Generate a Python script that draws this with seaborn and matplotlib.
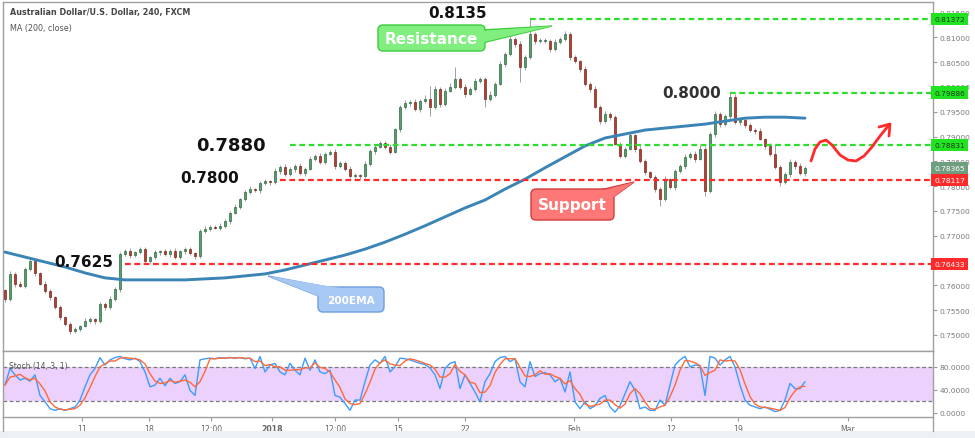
import numpy as np
import pandas as pd
import matplotlib
matplotlib.use("Agg")
import matplotlib.pyplot as plt
import seaborn as sns
from matplotlib import transforms
from matplotlib.patches import FancyBboxPatch, Polygon, Rectangle
from matplotlib.lines import Line2D

# ---------------- data ----------------
first_open = 0.7590
closes = [
    0.7572, 0.7623, 0.7603, 0.7599, 0.7633, 0.7649, 0.7624, 0.7603, 0.7589, 0.7576,
    0.7556, 0.7536, 0.7522, 0.7508, 0.7512, 0.7518, 0.7528, 0.7532, 0.7528, 0.7562,
    0.7556, 0.7572, 0.7593, 0.7663, 0.7669, 0.7661, 0.7667, 0.7673, 0.7649, 0.7657,
    0.7667, 0.7669, 0.7663, 0.7669, 0.7657, 0.7669, 0.7673, 0.7665, 0.7659, 0.7710,
    0.7714, 0.7718, 0.7716, 0.7720, 0.7730, 0.7746, 0.7758, 0.7774, 0.7788, 0.7794,
    0.7792, 0.7806, 0.7810, 0.7808, 0.7830, 0.7839, 0.7824, 0.7835, 0.7841, 0.7826,
    0.7835, 0.7855, 0.7861, 0.7849, 0.7865, 0.7869, 0.7841, 0.7847, 0.7835, 0.7820,
    0.7822, 0.7820, 0.7845, 0.7871, 0.7879, 0.7887, 0.7879, 0.7869, 0.7915, 0.7960,
    0.7968, 0.7970, 0.7955, 0.7972, 0.7976, 0.7960, 0.7996, 0.7966, 0.7992, 0.8000,
    0.8016, 0.8000, 0.7986, 0.7996, 0.8012, 0.8016, 0.7976, 0.7984, 0.8006, 0.8046,
    0.8066, 0.8097, 0.8087, 0.8040, 0.8060, 0.8107, 0.8093, 0.8093, 0.8093, 0.8076,
    0.8091, 0.8097, 0.8107, 0.8060, 0.8052, 0.8036, 0.8006, 0.7996, 0.7960, 0.7931,
    0.7945, 0.7939, 0.7885, 0.7861, 0.7875, 0.7903, 0.7875, 0.7851, 0.7828, 0.7818,
    0.7794, 0.7774, 0.7814, 0.7798, 0.7830, 0.7840, 0.7859, 0.7865, 0.7855, 0.7875,
    0.7790, 0.7905, 0.7945, 0.7925, 0.7941, 0.7980, 0.7929, 0.7933, 0.7923, 0.7913,
    0.7911, 0.7895, 0.7881, 0.7865, 0.7839, 0.7808, 0.7824, 0.7849, 0.7841, 0.7826,
    0.7837,
]
wick_up_pips = [
    3, 5, 4, 6, 3, 5, 4, 3, 5, 4,
    3, 4, 3, 5, 4, 3, 6, 4, 3, 5,
    4, 6, 3, 5, 4, 7, 3, 4, 5, 3,
    4, 3, 5, 4, 6, 3, 4, 5, 3, 4,
    5, 3, 4, 6, 3, 4, 5, 3, 4, 6,
    3, 5, 4, 3, 6, 4, 5, 3, 4, 5,
    4, 6, 3, 5, 4, 3, 6, 4, 3, 5,
    4, 3, 5, 4, 6, 3, 4, 5, 3, 4,
    6, 4, 5, 3, 8, 26, 6, 4, 5, 8,
    24, 4, 5, 3, 6, 4, 5, 8, 4, 6,
    5, 14, 4, 6, 5, 30, 4, 6, 5, 4,
    5, 4, 6, 4, 5, 3, 6, 4, 5, 3,
    6, 4, 5, 3, 4, 6, 3, 5, 4, 3,
    5, 4, 6, 3, 5, 4, 6, 3, 5, 8,
    5, 4, 6, 5, 4, 9, 5, 4, 6, 5,
    4, 6, 3, 5, 20, 4, 5, 6, 4, 5,
    4,
]
wick_dn_pips = [
    5, 4, 6, 3, 5, 4, 6, 3, 4, 5,
    4, 5, 3, 6, 4, 5, 3, 4, 5, 4,
    5, 3, 4, 6, 3, 5, 4, 3, 6, 4,
    3, 5, 4, 6, 3, 4, 5, 3, 6, 4,
    5, 4, 3, 5, 4, 6, 3, 4, 5, 4,
    3, 5, 4, 6, 3, 5, 4, 3, 6, 4,
    5, 3, 4, 5, 4, 3, 6, 4, 5, 3,
    4, 5, 3, 4, 6, 3, 5, 4, 3, 5,
    4, 6, 3, 5, 4, 19, 4, 6, 5, 3,
    4, 5, 6, 3, 5, 4, 16, 5, 4, 3,
    5, 4, 6, 30, 5, 4, 6, 5, 4, 5,
    3, 5, 4, 6, 3, 5, 4, 6, 3, 5,
    4, 6, 3, 5, 4, 3, 6, 4, 5, 3,
    6, 14, 5, 4, 6, 3, 5, 4, 6, 3,
    10, 4, 5, 6, 3, 5, 4, 6, 5, 4,
    5, 3, 6, 4, 5, 8, 4, 5, 6, 4,
    5,
]
# 200 MA, sampled every 4th bar
ma200 = [
    0.7667, 0.7657, 0.7647, 0.7637, 0.7625, 0.7615, 0.7611, 0.7611, 0.7611, 0.7611,
    0.7613, 0.7615, 0.7619, 0.7623, 0.7631, 0.7641, 0.7651, 0.7661, 0.7673, 0.7687,
    0.7703, 0.7720, 0.7738, 0.7756, 0.7772, 0.7794, 0.7814, 0.7837, 0.7859, 0.7881,
    0.7897, 0.7905, 0.7913, 0.7917, 0.7921, 0.7925, 0.7931, 0.7937, 0.7939, 0.7939,
    0.7937,
]
stoch_k = [
    48, 77, 66, 57, 60, 55, 66, 30, 19, 7,
    4, 7, 4, 7, 10, 22, 45, 66, 77, 96,
    83, 92, 96, 98, 94, 92, 95, 89, 71, 45,
    48, 60, 47, 60, 51, 54, 66, 39, 30, 92,
    94, 95, 94, 96, 95, 96, 95, 96, 94, 95,
    77, 98, 71, 83, 86, 71, 66, 86, 74, 66,
    95, 74, 92, 71, 68, 74, 30, 27, 16, 4,
    22, 22, 54, 83, 92, 86, 98, 71, 80, 95,
    94, 92, 89, 86, 84, 78, 66, 42, 77, 86,
    89, 42, 66, 51, 36, 19, 54, 68, 89, 96,
    98, 89, 94, 54, 45, 89, 63, 68, 70, 66,
    54, 60, 36, 71, 19, 7, 19, 7, 12, 25,
    30, 10, 1, 12, 33, 54, 39, 7, 10, 4,
    4, 22, 13, 48, 83, 92, 98, 80, 83, 82,
    30, 98, 95, 83, 92, 98, 80, 48, 22, 13,
    10, 7, 10, 6, 2, 4, 22, 51, 42, 42,
    54,
]
stoch_d = [
    48, 62, 64, 67, 61, 57, 60, 50, 38, 19,
    10, 6, 5, 6, 7, 13, 26, 44, 63, 80,
    85, 90, 90, 95, 96, 95, 94, 92, 85, 68,
    55, 51, 52, 56, 53, 55, 57, 53, 45, 54,
    72, 94, 94, 95, 95, 96, 95, 96, 95, 95,
    89, 90, 82, 84, 80, 80, 74, 74, 75, 75,
    78, 78, 87, 79, 77, 71, 57, 44, 24, 16,
    14, 16, 33, 53, 76, 87, 92, 85, 83, 82,
    90, 94, 92, 89, 86, 83, 76, 62, 62, 68,
    84, 72, 66, 53, 51, 35, 36, 47, 70, 84,
    94, 94, 94, 79, 64, 63, 66, 73, 67, 68,
    63, 60, 50, 56, 42, 32, 15, 11, 13, 15,
    22, 22, 14, 8, 15, 33, 42, 33, 19, 7,
    6, 10, 13, 28, 48, 74, 91, 90, 87, 82,
    65, 70, 74, 92, 90, 91, 90, 75, 50, 28,
    15, 10, 9, 8, 6, 4, 9, 26, 38, 45,
    46,
]
level_values = [0.81372, 0.79886, 0.78831, 0.78117, 0.76433]
level_is_resistance = [True, True, True, False, False]
level_start_bar = [105, 145, 57, 55, 24]
last_price = 0.78365
price_ticks = [0.750, 0.755, 0.760, 0.765, 0.770, 0.775, 0.780, 0.785,
               0.790, 0.795, 0.800, 0.805, 0.810, 0.815]
price_ticks_hidden = [0.765]   # fully covered by the 0.76433 tag in the reference
stoch_ticks = [0, 40, 80]
xtick_bars = [15.4, 28.8, 41.2, 53.4, 66.0, 78.6, 92.0, 113.8, 133.2, 146.6, 168.6]
xtick_labels = ["11", "18", "12:00", "2018", "12:00", "15", "22", "Feb", "12", "19", "Mar"]
annot_labels = ["0.8135", "0.7880", "0.7800", "0.7625", "0.8000"]

# ---------------- figure ----------------
sns.set_theme(style="white")
plt.rcParams["font.family"] = ["DejaVu Sans"]

W, H = 975, 439
fig = plt.figure(figsize=(W / 100, H / 100), dpi=100)
fig.patch.set_facecolor("white")
px = transforms.Affine2D().scale(1 / W, -1 / H).translate(0, 1) + fig.transFigure

ax = fig.add_axes([3 / W, 1 - 352 / H, 930 / W, 349 / H])
ax2 = fig.add_axes([3 / W, 1 - 418 / H, 930 / W, 66 / H])

o = np.array([first_open] + closes[:-1])
c = np.array(closes)
hi = np.maximum(o, c) + np.array(wick_up_pips) * 0.0001
lo = np.minimum(o, c) - np.array(wick_dn_pips) * 0.0001
xb = np.arange(len(c))
up = c >= o

ax.vlines(xb, lo, hi, color="#a0a0a0", lw=0.7, zorder=2)
bb = np.minimum(o, c)
bh = np.maximum(np.abs(c - o), 0.00007)
ax.bar(xb[up], bh[up], bottom=bb[up], width=0.5, color="#5c9f6f",
       edgecolor="#2e6a43", linewidth=0.5, zorder=3)
ax.bar(xb[~up], bh[~up], bottom=bb[~up], width=0.5, color="#b5402f",
       edgecolor="#7a261b", linewidth=0.5, zorder=3)

ma_df = pd.DataFrame({"bar": xb[::4][:len(ma200)], "ma": ma200})
sns.lineplot(data=ma_df, x="bar", y="ma", ax=ax, color="#3b84b6", linewidth=2.1, zorder=4)

XMIN, XMAX = -0.4, 185.6
for v, res, s in zip(level_values, level_is_resistance, level_start_bar):
    col = "#2fdc2f" if res else "#ff2a2a"
    ax.hlines(v, s, XMAX, colors=col, linewidth=1.6, linestyles=(0, (2.6, 1.6)), zorder=5)

ax.set_xlim(XMIN, XMAX)
ax.set_ylim(0.74676, 0.81712)
ax.set_xticks([])
ax.set_xlabel("")
ax.set_ylabel("")
ax.yaxis.tick_right()
ax.set_yticks(price_ticks)
ax.set_yticklabels(["" if t in price_ticks_hidden else f"{t:.5f}" for t in price_ticks])
ax.tick_params(axis="y", right=True, length=3, width=0.8, color="#999999",
               labelsize=5.4, labelcolor="#7a7a7a", pad=1.5)
for sp in ax.spines.values():
    sp.set_color("#a0a0a0")
    sp.set_linewidth(1)

blend = transforms.blended_transform_factory(ax.transAxes, ax.transData)
tags = list(zip(level_values, level_is_resistance)) + [(last_price, None)]
for v, res in tags:
    if res is None:
        fc, tc = "#6f9d80", "white"
    elif res:
        fc, tc = "#22e322", "#1a3a1a"
    else:
        fc, tc = "#ff2a2a", "white"
    ax.text(1.0015, v, f"{v:.5f}", transform=blend, fontsize=5.4, color=tc,
            ha="left", va="center", zorder=20, clip_on=False,
            bbox=dict(boxstyle="square,pad=0.42", fc=fc, ec="none"))

# ---------------- stochastic ----------------
ax2.axhspan(20, 80, color="#ebd1fb", zorder=0, lw=0)
ax2.axhline(80, color="#7a7a7a", lw=0.9, ls=(0, (3, 2)), zorder=1)
ax2.axhline(20, color="#7a7a7a", lw=0.9, ls=(0, (3, 2)), zorder=1)
st_df = pd.DataFrame({"bar": np.arange(len(stoch_k)), "k": stoch_k, "d": stoch_d})
sns.lineplot(data=st_df, x="bar", y="k", ax=ax2, color="#3d9cff", linewidth=1.0, zorder=3)
sns.lineplot(data=st_df, x="bar", y="d", ax=ax2, color="#ff6a3a", linewidth=1.0, zorder=4)
ax2.set_xlim(XMIN, XMAX)
ax2.set_ylim(-7.5, 107.5)
ax2.set_xlabel("")
ax2.set_ylabel("")
ax2.yaxis.tick_right()
ax2.set_yticks(stoch_ticks)
ax2.set_yticklabels([f"{t:.4f}" for t in stoch_ticks])
ax2.tick_params(axis="y", right=True, length=3, width=0.8, color="#999999",
                labelsize=5.4, labelcolor="#7a7a7a", pad=1.5)
ax2.set_xticks(xtick_bars)
ax2.set_xticklabels(xtick_labels)
ax2.tick_params(axis="x", bottom=True, length=3, width=0.8, color="#999999",
                labelsize=5.6, labelcolor="#666666", pad=2)
ax2.get_xticklabels()[3].set_fontweight("bold")
for sp in ax2.spines.values():
    sp.set_color("#a0a0a0")
    sp.set_linewidth(1)

# frame below the stoch panel and bottom strip
fig.add_artist(Line2D([3, 3], [418, 432], transform=px, color="#a0a0a0", lw=1))
fig.add_artist(Line2D([933, 933], [418, 432], transform=px, color="#a0a0a0", lw=1))
fig.add_artist(Rectangle((0, 432), W, 7, transform=px, color="#edf1f5", lw=0))

# ---------------- texts ----------------
fig.text(10, 13, "Australian Dollar/U.S. Dollar, 240, FXCM", transform=px, fontsize=5.8,
         fontweight="bold", color="#454545", va="center", ha="left")
fig.text(10, 29, "MA (200, close)", transform=px, fontsize=5.8, color="#555555",
         va="center", ha="left")
fig.text(9, 367, "Stoch (14, 3, 1)", transform=px, fontsize=5.5, color="#555555",
         va="center", ha="left", zorder=10)

annot_pos = [(458, 13, 11, "#111111"), (231, 146, 13, "#111111"), (210, 179, 11, "#111111"),
             (84, 263, 11, "#111111"), (692, 93, 11, "#333333")]
for lab, (x0, y0, fs, col) in zip(annot_labels, annot_pos):
    fig.text(x0, y0, lab, transform=px, fontsize=fs, fontweight="bold", color=col,
             ha="center", va="center")


def callout(box, wedge, fc, ec, text, fs):
    x0, y0, x1, y1 = box
    fig.add_artist(Polygon(wedge, closed=True, transform=px, fc=fc, ec=ec, lw=1))
    fig.add_artist(FancyBboxPatch((x0, y0), x1 - x0, y1 - y0,
                                  boxstyle="round,pad=0,rounding_size=5",
                                  transform=px, fc=fc, ec=ec, lw=1))
    inner = [(wedge[0][0] + 1.5, wedge[0][1] + 1), (wedge[1][0] + 1.5, wedge[1][1] - 1), wedge[2]]
    fig.add_artist(Polygon(inner, closed=True, transform=px, fc=fc, ec="none"))
    fig.text((x0 + x1) / 2, (y0 + y1) / 2 + 0.5, text, transform=px, fontsize=fs,
             fontweight="bold", color="white", ha="center", va="center")


callout((378, 26, 485, 52), [(482, 31), (482, 44), (552, 27)],
        "#80ef80", "#3ccc3c", "Resistance", 11)
callout((531, 190, 614, 221), [(596, 192), (612, 199), (634, 183)],
        "#ff7878", "#d23c3c", "Support", 11)
callout((318, 288, 384, 313), [(321, 298), (338, 290), (268, 277)],
        "#a6c8f2", "#6d9de0", "200EMA", 7.6)

# hand-drawn projection arrow
cx = [811, 815, 820, 826, 832, 840, 848, 856, 864, 872, 880, 889]
cy = [162, 150, 143, 141, 146, 156, 161, 162, 157, 148, 137, 126]
fig.add_artist(Line2D(cx, cy, transform=px, color="#ff2a2a", lw=2, solid_capstyle="round",
                      solid_joinstyle="round"))
fig.add_artist(Line2D([879, 890, 889], [128, 125, 137], transform=px, color="#ff2a2a", lw=2,
                      solid_capstyle="round", solid_joinstyle="round"))

fig.savefig("out.png", dpi=100)
